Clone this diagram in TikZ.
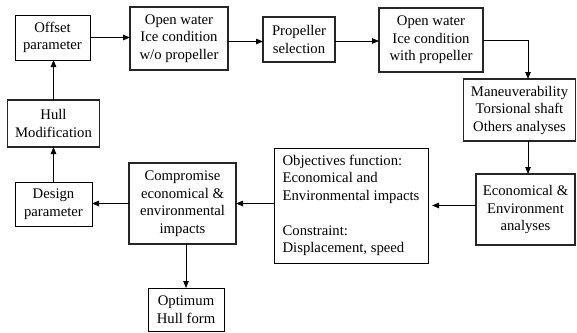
\documentclass[tikz,border=0pt]{standalone}
\usepackage{fontspec}
\setmainfont{Liberation Serif}
\usepackage{tikz}
\usetikzlibrary{arrows.meta,positioning,calc}

\begin{document}
\begin{tikzpicture}[
  x=1pt, y=-1pt,
  every node/.style={font=\fontsize{14.7}{17.5}\selectfont},
  blk/.style={draw, line width=0.8pt, align=center, inner sep=2pt, outer sep=0pt},
  blkT/.style={draw=black!85, line width=1.8pt, align=center, inner sep=2pt, outer sep=0pt},
  arr/.style={-{Triangle[length=7pt,width=5.5pt]}, line width=0.8pt}
]
\useasboundingbox (0,0) rectangle (577,332);

% Top row
\node[blk, minimum width=75pt, minimum height=45pt] (offset) at (52.5,37.5) {Offset\\parameter};
\node[blkT, minimum width=98pt, minimum height=63pt] (owo) at (179,38.5) {Open water\\Ice condition\\w/o propeller};
\node[blkT, minimum width=72pt, minimum height=45pt] (prop) at (299,39.5) {Propeller\\selection};
\node[blkT, minimum width=104pt, minimum height=64pt] (owp) at (431,40) {Open water\\Ice condition\\with propeller};

% Right column
\node[blkT, minimum width=112pt, minimum height=62pt] (manv) at (519.5,110) {Maneuverability\\Torsional shaft\\Others analyses};
\node[blkT, minimum width=99pt, minimum height=71pt] (econ) at (525.5,209.5) {Economical \&\\Environment\\analyses};

% Bottom row
\node[blk, align=left, minimum width=154pt, minimum height=115pt] (obj) at (351,205.5) {Objectives function:\\Economical and\\Environmental impacts\\[17.5pt]Constraint:\\Displacement, speed};
\node[blkT, minimum width=107pt, minimum height=81pt] (comp) at (182.5,203.5) {Compromise\\economical \&\\environmental\\impacts};
\node[blk, minimum width=77pt, minimum height=44pt] (design) at (53.5,204) {Design\\parameter};
\node[blk, minimum width=76pt, minimum height=43pt] (opt) at (186,309.5) {Optimum\\Hull form};

% Left column
\node[blkT, minimum width=92pt, minimum height=47pt] (hull) at (53.5,123.5) {Hull\\Modification};

% Connectors
\draw[arr] (offset.east) -- (offset.east -| owo.west);
\draw[arr] ([yshift=-3pt]owo.east) -- ([yshift=-3pt]owo.east -| prop.west);
\draw[arr] ([yshift=-1.5pt]prop.east) -- ([yshift=-1.5pt]prop.east -| owp.west);
\draw[arr] (owp.east) -| ([xshift=8.5pt]manv.north);
\draw[arr] ([xshift=8.5pt]manv.south) -- ([xshift=8.5pt]manv.south |- econ.north);
\draw[arr, shorten >=4pt] ([yshift=4pt]econ.west) -- ([yshift=4pt]econ.west -| obj.east);
\draw[arr] (comp.east -| obj.west) -- (comp.east);
\draw[arr] (comp.west) -- (comp.west -| design.east);
\draw[arr] (comp.south -| opt.north) -- (opt.north);
\draw[arr] (design.north) -- (design.north |- hull.south);
\draw[arr] (hull.north) -- (hull.north |- offset.south);
\end{tikzpicture}
\end{document}
